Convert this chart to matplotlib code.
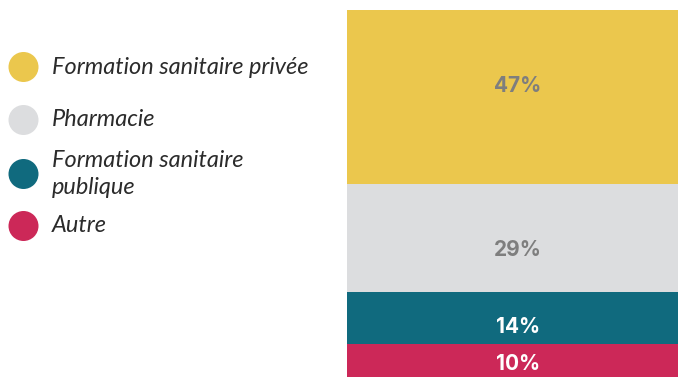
import matplotlib
matplotlib.use("Agg")
import matplotlib.pyplot as plt
from matplotlib.patches import Circle

# Data (top to bottom)
categories = ["Formation sanitaire privée", "Pharmacie", "Formation sanitaire\npublique", "Autre"]
values = [47.4, 29.4, 14.1, 9.1]          # segment heights
labels = ["47%", "29%", "14%", "10%"]

colors = ["#EBC74D", "#DCDDDF", "#106A7E", "#CC2858"]
label_colors = ["#7E7E7E", "#7E7E7E", "#FFFFFF", "#FFFFFF"]
label_offsets = [11, -12, -9, -3.5]   # vertical tweak (px)

W, H = 678, 377
fig = plt.figure(figsize=(W / 100, H / 100), dpi=100)

# Bar axes
ax = fig.add_axes([347 / W, 0, 1 - 347 / W, (H - 10) / H])
bottom = 0.0
total = sum(values)
for i in reversed(range(len(values))):
    ax.bar(0, values[i], bottom=bottom, width=1.0, color=colors[i], linewidth=0)
    mid = bottom + values[i] / 2
    ax.annotate(labels[i], (0, mid), xytext=(5.5 * 0.72, label_offsets[i] * 0.72),
                textcoords="offset points", ha="center", va="center",
                color=label_colors[i], fontsize=15, fontweight="bold",
                family=["Inter", "DejaVu Sans"])
    bottom += values[i]
ax.set_xlim(-0.5, 0.5)
ax.set_ylim(0, total)
ax.axis("off")

# Legend axes (pixel coordinates)
lax = fig.add_axes([0, 0, 340 / W, 1])
lax.set_xlim(0, 340)
lax.set_ylim(H, 0)
lax.set_aspect("equal")
lax.axis("off")
legend_y = [67, 120, 174, 226]
for i, cat in enumerate(categories):
    lax.add_patch(Circle((23.5, legend_y[i]), 15, color=colors[i], linewidth=0))
    lax.text(52, legend_y[i], cat, ha="left", va="center", fontsize=16.9,
             style="italic", family=["Lato", "DejaVu Sans"], color="#2B2B2B",
             linespacing=1.32)

fig.savefig("out.png", dpi=100)
